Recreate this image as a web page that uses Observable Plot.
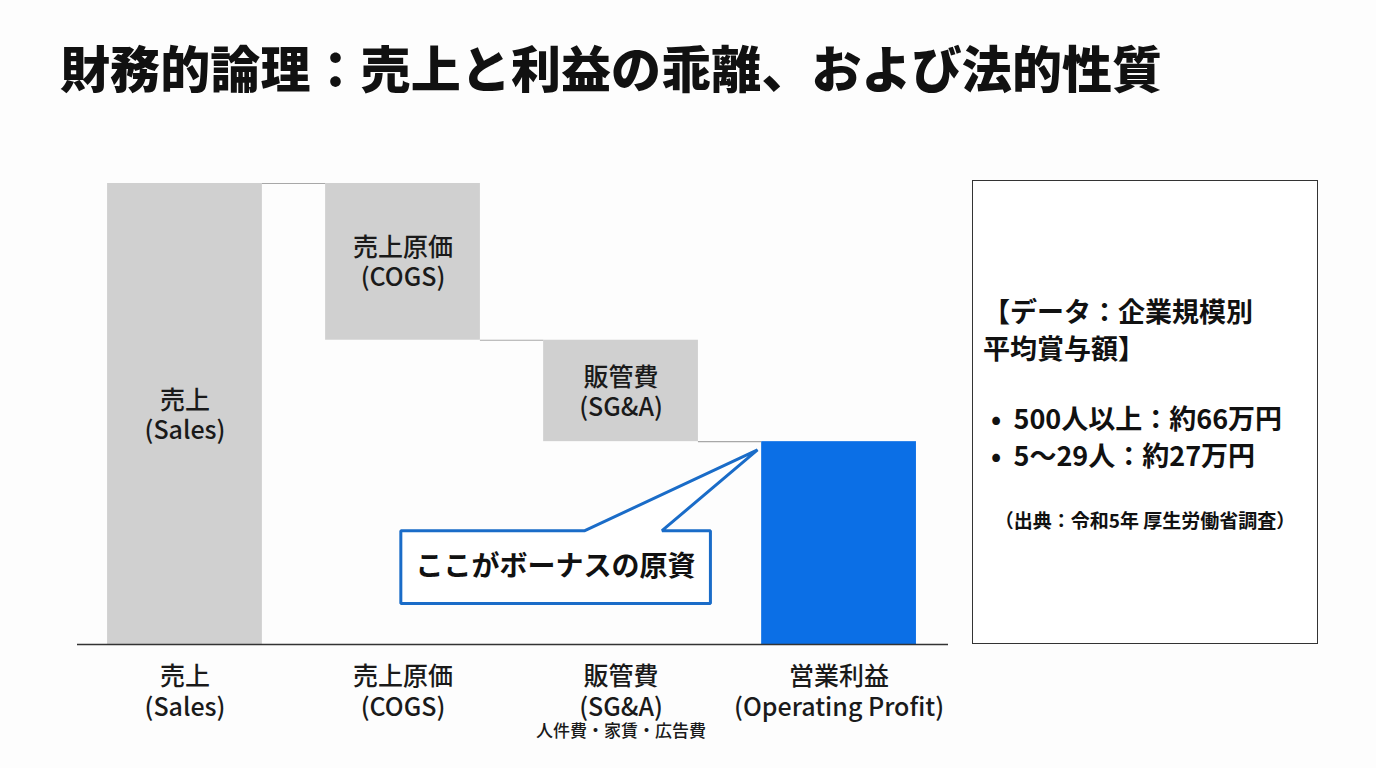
<!DOCTYPE html>
<html><head><meta charset="utf-8">
<script src="https://cdn.jsdelivr.net/npm/d3@7"></script>
<script src="https://cdn.jsdelivr.net/npm/@observablehq/plot@0.6"></script>
<style>
html,body{margin:0;padding:0;background:#fdfdfd;width:1376px;height:768px;overflow:hidden;font-family:"Noto Sans CJK JP","Noto Sans",sans-serif;}
#title{position:absolute;left:60px;top:40px;font-size:50px;line-height:52px;font-weight:900;color:#111;letter-spacing:0.1px;white-space:nowrap;}
#chart{position:absolute;left:0;top:150px;}
#box{position:absolute;left:972px;top:180px;width:344px;height:462px;border:1.5px solid #333;background:#fff;color:#111;}
#box .h{position:absolute;left:10px;top:111px;font-size:27px;line-height:37px;font-weight:700;}
#box .b{position:absolute;left:18px;top:218px;font-size:27px;line-height:37px;font-weight:600;white-space:nowrap;}
#box .s{position:absolute;left:0;width:100%;top:325px;text-align:center;font-size:19px;font-weight:600;}
</style></head>
<body>
<div id="title"></div>
<div id="chart"></div>
<div id="box"><div class="h"></div><div class="b"></div><div class="s"></div></div>
<script>
// ---- data ----
const titleText = "財務的論理：売上と利益の乖離、および法的性質";
const categories = ["売上", "売上原価", "販管費", "営業利益"];
const englishLabels = ["(Sales)", "(COGS)", "(SG&A)", "(Operating Profit)"];
const amounts = [100, -34, -22, 44];          // waterfall steps (Sales = 100)
const isTotal = [true, false, false, true];
const barColors = ["#d0d0d0", "#d0d0d0", "#d0d0d0", "#0b6fe6"];
const showInnerLabel = [true, true, true, false];
const sgaNote = "人件費・家賃・広告費";
const calloutText = "ここがボーナスの原資";
const boxHeading = ["【データ：企業規模別", "平均賞与額】"];
const boxBullets = ["500人以上：約66万円", "5〜29人：約27万円"];
const boxSource = "（出典：令和5年 厚生労働省調査）";

// ---- build waterfall rows ----
let run = 0;
const rows = categories.map((c, i) => {
  let y1, y2;
  if (isTotal[i]) { y1 = 0; y2 = amounts[i]; run = amounts[i]; }
  else { y2 = run; run = run + amounts[i]; y1 = run; }
  return {i, c, en: englishLabels[i], y1, y2, color: barColors[i], inner: showInnerLabel[i]};
});
const hw = 0.355;
const links = rows.slice(0, -1).map((d, k) => ({x1: d.i + hw, x2: d.i + 1 - hw, y: isTotal[k] ? d.y2 : d.y1}));

// callout anchored to the top-left corner of the operating-profit bar
const op = rows[3];
const ax = op.i - hw, ay = op.y2;
const boxL = ax - 1.655, boxR = ax - 0.235, boxT = ay - 19.3, boxB = ay - 35.1;
const callout = [
  {x: boxL, y: boxT}, {x: ax - 0.811, y: boxT}, {x: ax - 0.019, y: ay - 1.8},
  {x: ax - 0.457, y: boxT}, {x: boxR, y: boxT}, {x: boxR, y: boxB}, {x: boxL, y: boxB}
];

const plot = Plot.plot({
  width: 960, height: 600,
  marginLeft: 77, marginRight: 12, marginTop: 33, marginBottom: 106,
  x: {domain: [-0.493, 3.502], axis: null},
  y: {domain: [0, 100], axis: null},
  color: {type: "identity"},
  style: {fontFamily: "'Noto Sans CJK JP', 'Noto Sans', sans-serif", background: "transparent", overflow: "visible"},
  marks: [
    Plot.rectY(rows, {x1: d => d.i - hw, x2: d => d.i + hw, y1: "y1", y2: "y2", fill: "color"}),
    Plot.ruleY(links, {x1: "x1", x2: "x2", y: "y", stroke: "#a8a8a8", strokeWidth: 1.2}),
    Plot.ruleY([0], {stroke: "#333", strokeWidth: 1.5}),
    Plot.text(rows.filter(d => d.inner), {x: "i", y: d => (d.y1 + d.y2) / 2, text: d => d.c + "\n" + d.en,
      fontSize: 25, fontWeight: 500, lineHeight: 1.2, fill: "#1a1a1a"}),
    Plot.text(rows, {x: "i", y: 0, text: d => d.c + "\n" + d.en, lineAnchor: "top", dy: 18,
      fontSize: 25, fontWeight: 500, lineHeight: 1.24, fill: "#1a1a1a"}),
    Plot.text([sgaNote], {x: () => 2, y: () => 0, text: d => d, lineAnchor: "top", dy: 80, fontSize: 17, fontWeight: 500, fill: "#1a1a1a"}),
    Plot.line(callout, {x: "x", y: "y", curve: "linear-closed", stroke: "#1a6cc8", strokeWidth: 3, fill: "white", strokeLinejoin: "miter"}),
    Plot.text([calloutText], {x: () => (boxL + boxR) / 2, y: () => (boxT + boxB) / 2, text: d => d, fontSize: 28, fontWeight: 700, fill: "#111"})
  ]
});
document.getElementById("chart").appendChild(plot);
document.getElementById("title").textContent = titleText;
document.querySelector("#box .h").innerHTML = boxHeading.join("<br>");
document.querySelector("#box .b").innerHTML = boxBullets.map(t => "•&nbsp;&nbsp;" + t).join("<br>");
document.querySelector("#box .s").textContent = boxSource;
</script>
</body></html>
